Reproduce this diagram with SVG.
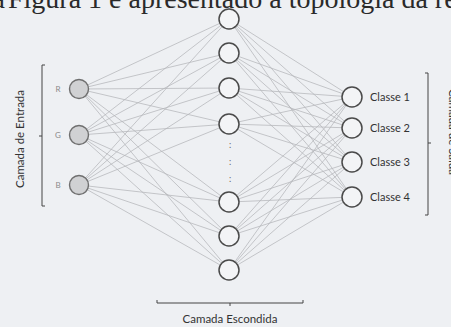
<svg xmlns="http://www.w3.org/2000/svg" width="451" height="327" viewBox="0 0 451 327">
<style>
.bg{fill:#eef0f3}
.c line{stroke:#b4b6b9;stroke-width:0.75}
.in circle{fill:#d0d1d3;stroke:#6f6f6f;stroke-width:1.4}
.hid circle,.out circle{fill:#f3f4f6;stroke:#4a4a4a;stroke-width:1.5}
.lbl{font-family:Lato,"Open Sans",sans-serif;font-size:11px;fill:#333}
.small{font-family:Lato,"Open Sans",sans-serif;font-size:8px;fill:#8a8a8a}
.br{stroke:#444;stroke-width:1;fill:none}
.top{font-family:"Liberation Serif",serif;font-size:28px;fill:#2a2a2a}
.dots{font-family:Lato,sans-serif;font-size:9px;fill:#666}
</style>
<rect class="bg" width="451" height="327"/>
<text class="top" y="7.5"><tspan x="5" text-anchor="end">Na</tspan><tspan x="8">Figura 1 é apresentado a topologia da rede</tspan></text>
<g class="c" id="connectors">
<line x1="79" y1="89" x2="229" y2="19"/><line x1="79" y1="89" x2="229" y2="53"/><line x1="79" y1="89" x2="229" y2="88"/><line x1="79" y1="89" x2="229" y2="124"/><line x1="79" y1="89" x2="229" y2="202"/><line x1="79" y1="89" x2="229" y2="236"/><line x1="79" y1="89" x2="229" y2="270"/>
<line x1="79" y1="135" x2="229" y2="19"/><line x1="79" y1="135" x2="229" y2="53"/><line x1="79" y1="135" x2="229" y2="88"/><line x1="79" y1="135" x2="229" y2="124"/><line x1="79" y1="135" x2="229" y2="202"/><line x1="79" y1="135" x2="229" y2="236"/><line x1="79" y1="135" x2="229" y2="270"/>
<line x1="79" y1="185" x2="229" y2="19"/><line x1="79" y1="185" x2="229" y2="53"/><line x1="79" y1="185" x2="229" y2="88"/><line x1="79" y1="185" x2="229" y2="124"/><line x1="79" y1="185" x2="229" y2="202"/><line x1="79" y1="185" x2="229" y2="236"/><line x1="79" y1="185" x2="229" y2="270"/>
<line x1="229" y1="19" x2="352" y2="97"/><line x1="229" y1="19" x2="352" y2="128"/><line x1="229" y1="19" x2="352" y2="162"/><line x1="229" y1="19" x2="352" y2="197"/>
<line x1="229" y1="53" x2="352" y2="97"/><line x1="229" y1="53" x2="352" y2="128"/><line x1="229" y1="53" x2="352" y2="162"/><line x1="229" y1="53" x2="352" y2="197"/>
<line x1="229" y1="88" x2="352" y2="97"/><line x1="229" y1="88" x2="352" y2="128"/><line x1="229" y1="88" x2="352" y2="162"/><line x1="229" y1="88" x2="352" y2="197"/>
<line x1="229" y1="124" x2="352" y2="97"/><line x1="229" y1="124" x2="352" y2="128"/><line x1="229" y1="124" x2="352" y2="162"/><line x1="229" y1="124" x2="352" y2="197"/>
<line x1="229" y1="202" x2="352" y2="97"/><line x1="229" y1="202" x2="352" y2="128"/><line x1="229" y1="202" x2="352" y2="162"/><line x1="229" y1="202" x2="352" y2="197"/>
<line x1="229" y1="236" x2="352" y2="97"/><line x1="229" y1="236" x2="352" y2="128"/><line x1="229" y1="236" x2="352" y2="162"/><line x1="229" y1="236" x2="352" y2="197"/>
<line x1="229" y1="270" x2="352" y2="97"/><line x1="229" y1="270" x2="352" y2="128"/><line x1="229" y1="270" x2="352" y2="162"/><line x1="229" y1="270" x2="352" y2="197"/>
</g>
<g id="input-R" class="in"><circle cx="79" cy="89" r="9.5"/><text class="small" x="58" y="92" text-anchor="middle">R</text></g>
<g id="input-G" class="in"><circle cx="79" cy="135" r="9.5"/><text class="small" x="58" y="138" text-anchor="middle">G</text></g>
<g id="input-B" class="in"><circle cx="79" cy="185" r="9.5"/><text class="small" x="58" y="188" text-anchor="middle">B</text></g>
<g id="hidden-1" class="hid"><circle cx="229" cy="19" r="10"/></g>
<g id="hidden-2" class="hid"><circle cx="229" cy="53" r="10"/></g>
<g id="hidden-3" class="hid"><circle cx="229" cy="88" r="10"/></g>
<g id="hidden-4" class="hid"><circle cx="229" cy="124" r="10"/></g>
<g id="hidden-5" class="hid"><circle cx="229" cy="202" r="10"/></g>
<g id="hidden-6" class="hid"><circle cx="229" cy="236" r="10"/></g>
<g id="hidden-7" class="hid"><circle cx="229" cy="270" r="10"/></g>
<g id="ellipsis"><text class="dots" x="230" y="148" text-anchor="middle">:</text><text class="dots" x="230" y="165" text-anchor="middle">:</text><text class="dots" x="230" y="182" text-anchor="middle">:</text></g>
<g id="output-1" class="out"><circle cx="352" cy="97" r="10"/><text class="lbl" x="370" y="101">Classe 1</text></g>
<g id="output-2" class="out"><circle cx="352" cy="128" r="10"/><text class="lbl" x="370" y="132">Classe 2</text></g>
<g id="output-3" class="out"><circle cx="352" cy="162" r="10"/><text class="lbl" x="370" y="166">Classe 3</text></g>
<g id="output-4" class="out"><circle cx="352" cy="197" r="10"/><text class="lbl" x="370" y="201">Classe 4</text></g>
<g id="bracket-input">
<path class="br" d="M45,65 H42 V206 H45 M42,136 H39"/>
<text class="lbl" transform="translate(24,139) rotate(-90)" text-anchor="middle" style="font-size:11.5px">Camada de Entrada</text>
</g>
<g id="bracket-hidden">
<path class="br" d="M157,300 V303 H303 V300 M230,303 V306"/>
<text class="lbl" x="230" y="323" text-anchor="middle" style="font-size:11.5px">Camada Escondida</text>
</g>
<g id="bracket-output">
<path class="br" d="M425,73 H428 V215 H425 M428,143 H431"/>
<text class="lbl" transform="translate(449,132) rotate(90)" text-anchor="middle" style="font-size:11.5px">Camada de Saída</text>
</g>
</svg>
